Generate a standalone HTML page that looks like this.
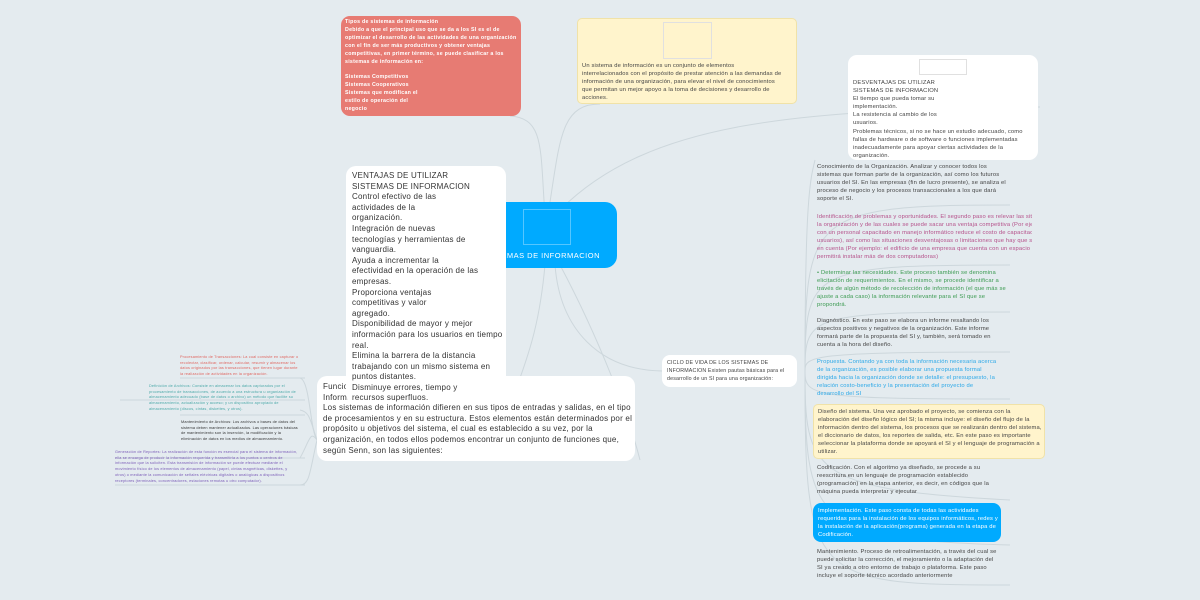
<!DOCTYPE html>
<html><head><meta charset="utf-8"><style>
body{margin:0;width:1200px;height:600px;background:#e4ebef;position:relative;overflow:hidden;font-family:"Liberation Sans",sans-serif;}
.b{position:absolute;box-sizing:border-box;}
.t{position:absolute;font-size:5.8px;line-height:8.1px;color:#444;white-space:nowrap;letter-spacing:0.15px;}
.s{position:absolute;font-size:3.8px;line-height:5.7px;white-space:nowrap;letter-spacing:0.15px;}
.L{position:absolute;font-size:8px;line-height:10.6px;color:#333;white-space:nowrap;letter-spacing:0.22px;}
.img{position:absolute;border:1px solid #e0e0e0;box-sizing:border-box;}
</style></head><body>
<svg class="b" style="left:0;top:0" width="1200" height="600">
<g fill="none" stroke="#cdd7dc" stroke-width="1">
<path d="M545 215 C540 150 545 118 510 116"/>
<path d="M548 215 C560 140 560 104 600 104"/>
<path d="M560 210 C650 120 800 110 1040 107"/>
<path d="M555 265 C560 330 600 370 662 371"/>
<path d="M560 265 C600 340 630 420 640 460"/>
<path d="M545 265 C540 320 530 350 520 378"/>
<path d="M805 371 C805 200 810 180 815 160"/>
<path d="M805 371 C805 215 810 205 1010 205"/>
<path d="M805 371 C805 270 810 265 1010 265"/>
<path d="M805 371 C805 315 810 312 1010 312"/>
<path d="M805 371 C805 356 810 352 1010 352"/>
<path d="M805 371 C805 396 810 399 1010 399"/>
<path d="M805 371 C805 470 810 490 1010 500"/>
<path d="M805 371 C805 520 810 540 1010 545"/>
<path d="M805 371 C805 580 810 585 1010 585"/>
<path d="M317 440 C310 430 310 380 300 378"/>
<path d="M317 440 C310 420 310 412 300 410"/>
<path d="M317 440 C310 430 310 440 300 458"/>
<path d="M317 440 C310 470 310 485 300 485"/>
<path d="M120 400 L305 400 M180 378 L305 378 M180 415 L305 415 M115 458 L305 458 M115 485 L305 485"/>
</g></svg>

<div class="b" style="left:341px;top:16px;width:180px;height:100px;background:#e77b73;border-radius:9px;"></div>
<div class="t" style="left:345px;top:19px;color:#fff;font-weight:bold;font-size:5.3px;line-height:7.9px;letter-spacing:0.25px;">Tipos de sistemas de información<br>Debido a que el principal uso que se da a los SI es el de<br>optimizar el desarrollo de las actividades de una organización<br>con el fin de ser más productivos y obtener ventajas<br>competitivas, en primer término, se puede clasificar a los<br>sistemas de información en:<br><br>Sistemas Competitivos<br>Sistemas Cooperativos<br>Sistemas que modifican el<br>estilo de operación del<br>negocio</div>

<div class="b" style="left:577px;top:18px;width:220px;height:86px;background:#fff4cc;border:1px solid #f0e2a8;border-radius:5px;"></div>
<div class="img" style="left:663px;top:22px;width:49px;height:37px;"></div>
<div class="t" style="left:582px;top:62px;">Un sistema de información es un conjunto de elementos<br>interrelacionados con el propósito de prestar atención a las demandas de<br>información de una organización, para elevar el nivel de conocimientos<br>que permitan un mejor apoyo a la toma de decisiones y desarrollo de<br>acciones.</div>

<div class="b" style="left:848px;top:55px;width:190px;height:105px;background:#fff;border-radius:9px;"></div>
<div class="img" style="left:919px;top:59px;width:48px;height:16px;"></div>
<div class="t" style="left:853px;top:79px;">DESVENTAJAS DE UTILIZAR<br>SISTEMAS DE INFORMACION<br>El tiempo que pueda tomar su<br>implementación.<br>La resistencia al cambio de los<br>usuarios.<br>Problemas técnicos, si no se hace un estudio adecuado, como<br>fallas de hardware o de software o funciones implementadas<br>inadecuadamente para apoyar ciertas actividades de la<br>organización.</div>

<div class="b" style="left:480px;top:202px;width:137px;height:66px;background:#00aaff;border-radius:12px;"></div>
<div class="img" style="left:523px;top:209px;width:48px;height:36px;border-color:#55c6ff;"></div>
<div class="L" style="left:440px;top:251px;width:160px;text-align:right;color:#fff;font-size:7.5px;letter-spacing:0.5px;">SISTEMAS DE INFORMACION</div>

<div class="b" style="left:317px;top:376px;width:318px;height:85px;background:#fff;border-radius:10px;"></div>
<div class="L" style="left:323px;top:382px;">Funciones de los Sistemas de<br>Información<br>Los sistemas de información difieren en sus tipos de entradas y salidas, en el tipo<br>de procesamientos y en su estructura. Estos elementos están determinados por el<br>propósito u objetivos del sistema, el cual es establecido a su vez, por la<br>organización, en todos ellos podemos encontrar un conjunto de funciones que,<br>según Senn, son las siguientes:</div>

<div class="b" style="left:346px;top:166px;width:160px;height:238px;background:#fff;border-radius:10px;"></div>
<div class="L" style="left:352px;top:171px;">VENTAJAS DE UTILIZAR<br>SISTEMAS DE INFORMACION<br>Control efectivo de las<br>actividades de la<br>organización.<br>Integración de nuevas<br>tecnologías y herramientas de<br>vanguardia.<br>Ayuda a incrementar la<br>efectividad en la operación de las<br>empresas.<br>Proporciona ventajas<br>competitivas y valor<br>agregado.<br>Disponibilidad de mayor y mejor<br>información para los usuarios en tiempo<br>real.<br>Elimina la barrera de la distancia<br>trabajando con un mismo sistema en<br>puntos distantes.<br>Disminuye errores, tiempo y<br>recursos superfluos.</div>

<div class="s" style="left:180px;top:355px;color:#e06660;">Procesamiento de Transacciones: La cual consiste en capturar o<br>recolectar, clasificar, ordenar, calcular, resumir y almacenar los<br>datos originados por las transacciones, que tienen lugar durante<br>la realización de actividades en la organización.</div>
<div class="s" style="left:149px;top:384px;color:#4aa8a8;">Definición de Archivos: Consiste en almacenar los datos capturados por el<br>procesamiento de transacciones, de acuerdo a una estructura u organización de<br>almacenamiento adecuado (base de datos o archivo) un método que facilite su<br>almacenamiento, actualización y acceso; y un dispositivo apropiado de<br>almacenamiento (discos, cintas, diskettes, y otros).</div>
<div class="s" style="left:181px;top:420px;color:#333;">Mantenimiento de Archivos: Los archivos o bases de datos del<br>sistema deben mantener actualizados. Las operaciones básicas<br>de mantenimiento son la inserción, la modificación y la<br>eliminación de datos en los medios de almacenamiento.</div>
<div class="s" style="left:115px;top:450px;color:#7b5cb8;">Generación de Reportes: La realización de esta función es esencial para el sistema de información,<br>ella se encarga de producir la información requerida y transmitirla a los puntos o centros de<br>información que la soliciten. Esta transmisión de información se puede efectuar mediante el<br>movimiento físico de los elementos de almacenamiento (papel, cintas magnéticas, diskettes, y<br>otros) o mediante la comunicación de señales eléctricas digitales o analógicas a dispositivos<br>receptores (terminales, concentradores, estaciones remotas u otro computador).</div>

<div class="b" style="left:662px;top:355px;width:135px;height:32px;background:#fff;border-radius:8px;"></div>
<div class="t" style="left:667px;top:360px;font-size:5.3px;line-height:7.8px;">CICLO DE VIDA DE LOS SISTEMAS DE<br>INFORMACION Existen pautas básicas para el<br>desarrollo de un SI para una organización:</div>

<div class="t" style="left:817px;top:163px;">Conocimiento de la Organización. Analizar y conocer todos los<br>sistemas que forman parte de la organización, así como los futuros<br>usuarios del SI. En las empresas (fin de lucro presente), se analiza el<br>proceso de negocio y los procesos transaccionales a los que dará<br>soporte el SI.</div>
<div class="t" style="left:817px;top:213px;width:215px;color:#b5508a;overflow:hidden;">Identificación de problemas y oportunidades. El segundo paso es relevar las situaciones que tiene<br>la organización y de las cuales se puede sacar una ventaja competitiva (Por ejemplo: una empresa<br>con un personal capacitado en manejo informático reduce el costo de capacitación de los<br>usuarios), así como las situaciones desventajosas o limitaciones que hay que sortear o que tomar<br>en cuenta (Por ejemplo: el edificio de una empresa que cuenta con un espacio muy reducido y no<br>permitirá instalar más de dos computadoras)</div>
<div class="t" style="left:817px;top:269px;color:#3a9a50;">• Determinar las necesidades. Este proceso también se denomina<br>elicitación de requerimientos. En el mismo, se procede identificar a<br>través de algún método de recolección de información (el que más se<br>ajuste a cada caso) la información relevante para el SI que se<br>propondrá.</div>
<div class="t" style="left:817px;top:317px;">Diagnóstico. En este paso se elabora un informe resaltando los<br>aspectos positivos y negativos de la organización. Este informe<br>formará parte de la propuesta del SI y, también, será tomado en<br>cuenta a la hora del diseño.</div>
<div class="t" style="left:817px;top:358px;color:#2ba8e8;">Propuesta. Contando ya con toda la información necesaria acerca<br>de la organización, es posible elaborar una propuesta formal<br>dirigida hacia la organización donde se detalle: el presupuesto, la<br>relación costo-beneficio y la presentación del proyecto de<br>desarrollo del SI</div>
<div class="b" style="left:813px;top:404px;width:232px;height:55px;background:#fff4cc;border:1px solid #f0e2a8;border-radius:5px;"></div>
<div class="t" style="left:818px;top:408px;">Diseño del sistema. Una vez aprobado el proyecto, se comienza con la<br>elaboración del diseño lógico del SI; la misma incluye: el diseño del flujo de la<br>información dentro del sistema, los procesos que se realizarán dentro del sistema,<br>el diccionario de datos, los reportes de salida, etc. En este paso es importante<br>seleccionar la plataforma donde se apoyará el SI y el lenguaje de programación a<br>utilizar.</div>
<div class="t" style="left:817px;top:464px;">Codificación. Con el algoritmo ya diseñado, se procede a su<br>reescritura en un lenguaje de programación establecido<br>(programación) en la etapa anterior, es decir, en códigos que la<br>máquina pueda interpretar y ejecutar</div>
<div class="b" style="left:813px;top:503px;width:188px;height:39px;background:#00aaff;border-radius:8px;"></div>
<div class="t" style="left:818px;top:507px;color:#fff;">Implementación. Este paso consta de todas las actividades<br>requeridas para la instalación de los equipos informáticos, redes y<br>la instalación de la aplicación(programa) generada en la etapa de<br>Codificación.</div>
<div class="t" style="left:817px;top:548px;">Mantenimiento. Proceso de retroalimentación, a través del cual se<br>puede solicitar la corrección, el mejoramiento o la adaptación del<br>SI ya creado a otro entorno de trabajo o plataforma. Este paso<br>incluye el soporte técnico acordado anteriormente</div>
</body></html>
